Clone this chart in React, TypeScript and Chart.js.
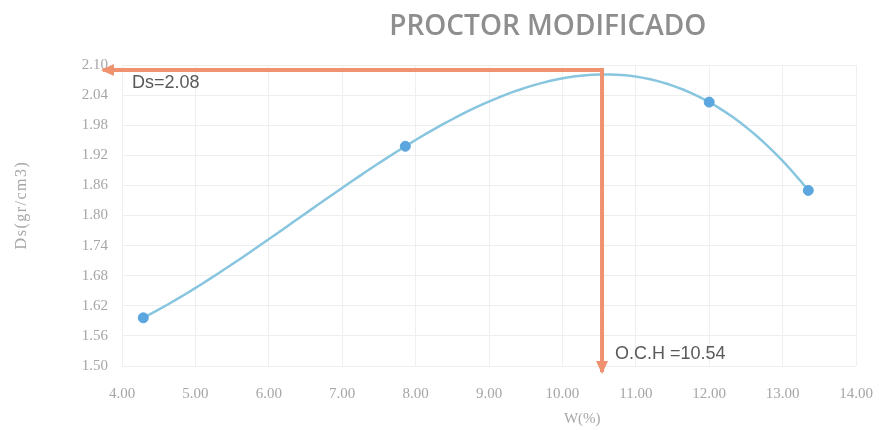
import React, { useEffect, useRef } from "react";
import { Chart, registerables } from "chart.js";

Chart.register(...registerables);

// Measured points (moisture %, dry density)
const W_PERCENT = [4.29, 7.86, 12.0, 13.35];
const DS_VALUES = [1.596, 1.938, 2.026, 1.85];

// Axis ranges / ticks
const X_MIN = 4;
const X_MAX = 14;
const X_STEP = 1;
const Y_MIN = 1.5;
const Y_MAX = 2.1;
const Y_STEP = 0.06;

// Optimum read-out (guide arrows)
const OCH = 10.54;
const DS_MAX = 2.08;
const GUIDE_X = [3.74, OCH, OCH];
const GUIDE_Y = [2.09, 2.09, 1.488];

const TITLE = "PROCTOR MODIFICADO";
const X_TITLE = "W(%)";
const Y_TITLE = "Ds(gr/cm3)";
const DS_LABEL = "Ds=" + DS_MAX.toFixed(2);
const OCH_LABEL = "O.C.H =" + OCH.toFixed(2);

const TREND_ORDER = 3;
const TREND_SAMPLES = 80;

// least-squares polynomial trendline (Excel-style) from the measured points
function polyFit(xs: number[], ys: number[], order: number): number[] {
  const n = order + 1;
  const A: number[][] = [];
  for (let r = 0; r < n; r++) {
    const row: number[] = [];
    for (let c = 0; c < n; c++) {
      let s = 0;
      for (let i = 0; i < xs.length; i++) s += Math.pow(xs[i], r + c);
      row.push(s);
    }
    let b = 0;
    for (let i = 0; i < xs.length; i++) b += ys[i] * Math.pow(xs[i], r);
    row.push(b);
    A.push(row);
  }
  for (let i = 0; i < n; i++) {
    let p = i;
    for (let k = i + 1; k < n; k++) if (Math.abs(A[k][i]) > Math.abs(A[p][i])) p = k;
    [A[i], A[p]] = [A[p], A[i]];
    for (let k = i + 1; k < n; k++) {
      const f = A[k][i] / A[i][i];
      for (let c = i; c <= n; c++) A[k][c] -= f * A[i][c];
    }
  }
  const coef = new Array(n).fill(0);
  for (let i = n - 1; i >= 0; i--) {
    let s = A[i][n];
    for (let c = i + 1; c < n; c++) s -= A[i][c] * coef[c];
    coef[i] = s / A[i][i];
  }
  return coef;
}

function trendPoints() {
  const coef = polyFit(W_PERCENT, DS_VALUES, TREND_ORDER);
  const x0 = Math.min(...W_PERCENT);
  const x1 = Math.max(...W_PERCENT);
  const pts: { x: number; y: number }[] = [];
  for (let i = 0; i <= TREND_SAMPLES; i++) {
    const x = x0 + ((x1 - x0) * i) / TREND_SAMPLES;
    let y = 0;
    for (let k = 0; k < coef.length; k++) y += coef[k] * Math.pow(x, k);
    pts.push({ x, y });
  }
  return pts;
}

const ORANGE = "#ef9270";
const LINE_BLUE = "#88c6df";
const POINT_BLUE = "#5ba6de";

const overlayPlugin = {
  id: "overlay",
  afterDatasetsDraw(chart: any) {
    const ctx = chart.ctx;
    const xs = chart.scales.x;
    const ys = chart.scales.y;
    ctx.save();
    ctx.fillStyle = ORANGE;
    // left arrow head
    const lx = xs.getPixelForValue(GUIDE_X[0]);
    const ly = ys.getPixelForValue(GUIDE_Y[0]);
    ctx.beginPath();
    ctx.moveTo(lx - 2, ly);
    ctx.lineTo(lx + 11, ly - 6);
    ctx.lineTo(lx + 11, ly + 6);
    ctx.closePath();
    ctx.fill();
    // down arrow head
    const dx = xs.getPixelForValue(GUIDE_X[2]);
    const dy = ys.getPixelForValue(GUIDE_Y[2]);
    ctx.beginPath();
    ctx.moveTo(dx, dy + 2);
    ctx.lineTo(dx - 6, dy - 11);
    ctx.lineTo(dx + 6, dy - 11);
    ctx.closePath();
    ctx.fill();

    // annotation labels
    ctx.fillStyle = "#595959";
    ctx.font = '18px "Liberation Sans", Arial, sans-serif';
    ctx.textAlign = "left";
    ctx.textBaseline = "middle";
    ctx.fillText(DS_LABEL, xs.getPixelForValue(X_MIN) + 10, ly + 13);
    ctx.fillText(OCH_LABEL, dx + 13, ys.getPixelForValue(Y_MIN) - 12);
    ctx.restore();
  },
  afterDraw(chart: any) {
    const ctx = chart.ctx;
    const area = chart.chartArea;
    ctx.save();
    // chart title
    ctx.fillStyle = "#8e8e8e";
    ctx.font = '600 28px "Open Sans", sans-serif';
    ctx.textAlign = "center";
    ctx.textBaseline = "middle";
    ctx.fillText(TITLE, area.left + (area.right - area.left) * 0.58, 27);
    // x axis title
    ctx.fillStyle = "#a6a6a6";
    ctx.font = '15px "Liberation Serif", serif';
    ctx.fillText(X_TITLE, area.left + (area.right - area.left) * 0.627, 419);
    // y axis title
    ctx.translate(22, 205);
    ctx.rotate(-Math.PI / 2);
    ctx.font = '16px "Liberation Serif", serif';
    try {
      (ctx as any).letterSpacing = "1.5px";
    } catch (e) {}
    ctx.fillText(Y_TITLE, 0, 0);
    ctx.restore();
  },
};

export default function App() {
  const canvasRef = useRef<HTMLCanvasElement | null>(null);

  useEffect(() => {
    document.body.style.margin = "0";
    const canvas = canvasRef.current;
    if (!canvas) return;
    const chart = new Chart(canvas, {
      type: "line",
      data: {
        datasets: [
          {
            label: "Puntos",
            data: W_PERCENT.map((x, i) => ({ x, y: DS_VALUES[i] })),
            showLine: false,
            pointRadius: 5,
            pointBackgroundColor: POINT_BLUE,
            pointBorderColor: POINT_BLUE,
            borderColor: POINT_BLUE,
            order: 0,
          },
          {
            label: "Guía",
            data: GUIDE_X.map((x, i) => ({ x, y: GUIDE_Y[i] })),
            borderColor: ORANGE,
            borderWidth: 4,
            pointRadius: 0,
            tension: 0,
            clip: false as any,
            order: 1,
          },
          {
            label: "Tendencia",
            data: trendPoints(),
            borderColor: LINE_BLUE,
            borderWidth: 2.5,
            pointRadius: 0,
            tension: 0,
            order: 2,
          },
        ],
      },
      options: {
        responsive: false,
        animation: false,
        devicePixelRatio: 1,
        layout: { padding: { top: 65, right: 23, bottom: 0, left: 0 } },
        plugins: {
          legend: { display: false },
          title: { display: false },
          tooltip: { enabled: false },
        },
        scales: {
          x: {
            type: "linear",
            min: X_MIN,
            max: X_MAX,
            ticks: {
              stepSize: X_STEP,
              padding: 19,
              color: "#a6a6a6",
              font: { family: '"Liberation Serif", serif', size: 15 },
              callback: (v: any) => Number(v).toFixed(2),
              maxRotation: 0,
            },
            grid: { color: "#efefef", drawTicks: false },
            border: { display: false },
            afterFit: (s: any) => {
              s.height = 64;
              s.paddingLeft = 0;
              s.paddingRight = 0;
            },
          },
          y: {
            type: "linear",
            min: Y_MIN,
            max: Y_MAX,
            ticks: {
              stepSize: Y_STEP,
              padding: 14,
              color: "#a6a6a6",
              font: { family: '"Liberation Serif", serif', size: 15 },
              callback: (v: any) => Number(v).toFixed(2),
            },
            grid: { color: "#efefef", drawTicks: false },
            border: { display: false },
            afterFit: (s: any) => {
              s.width = 122;
              s.paddingTop = 0;
              s.paddingBottom = 0;
            },
          },
        },
      },
      plugins: [overlayPlugin],
    });
    return () => chart.destroy();
  }, []);

  return (
    <div style={{ width: 879, height: 430, background: "#fff" }}>
      <canvas ref={canvasRef} width={879} height={430} style={{ display: "block" }} />
    </div>
  );
}
